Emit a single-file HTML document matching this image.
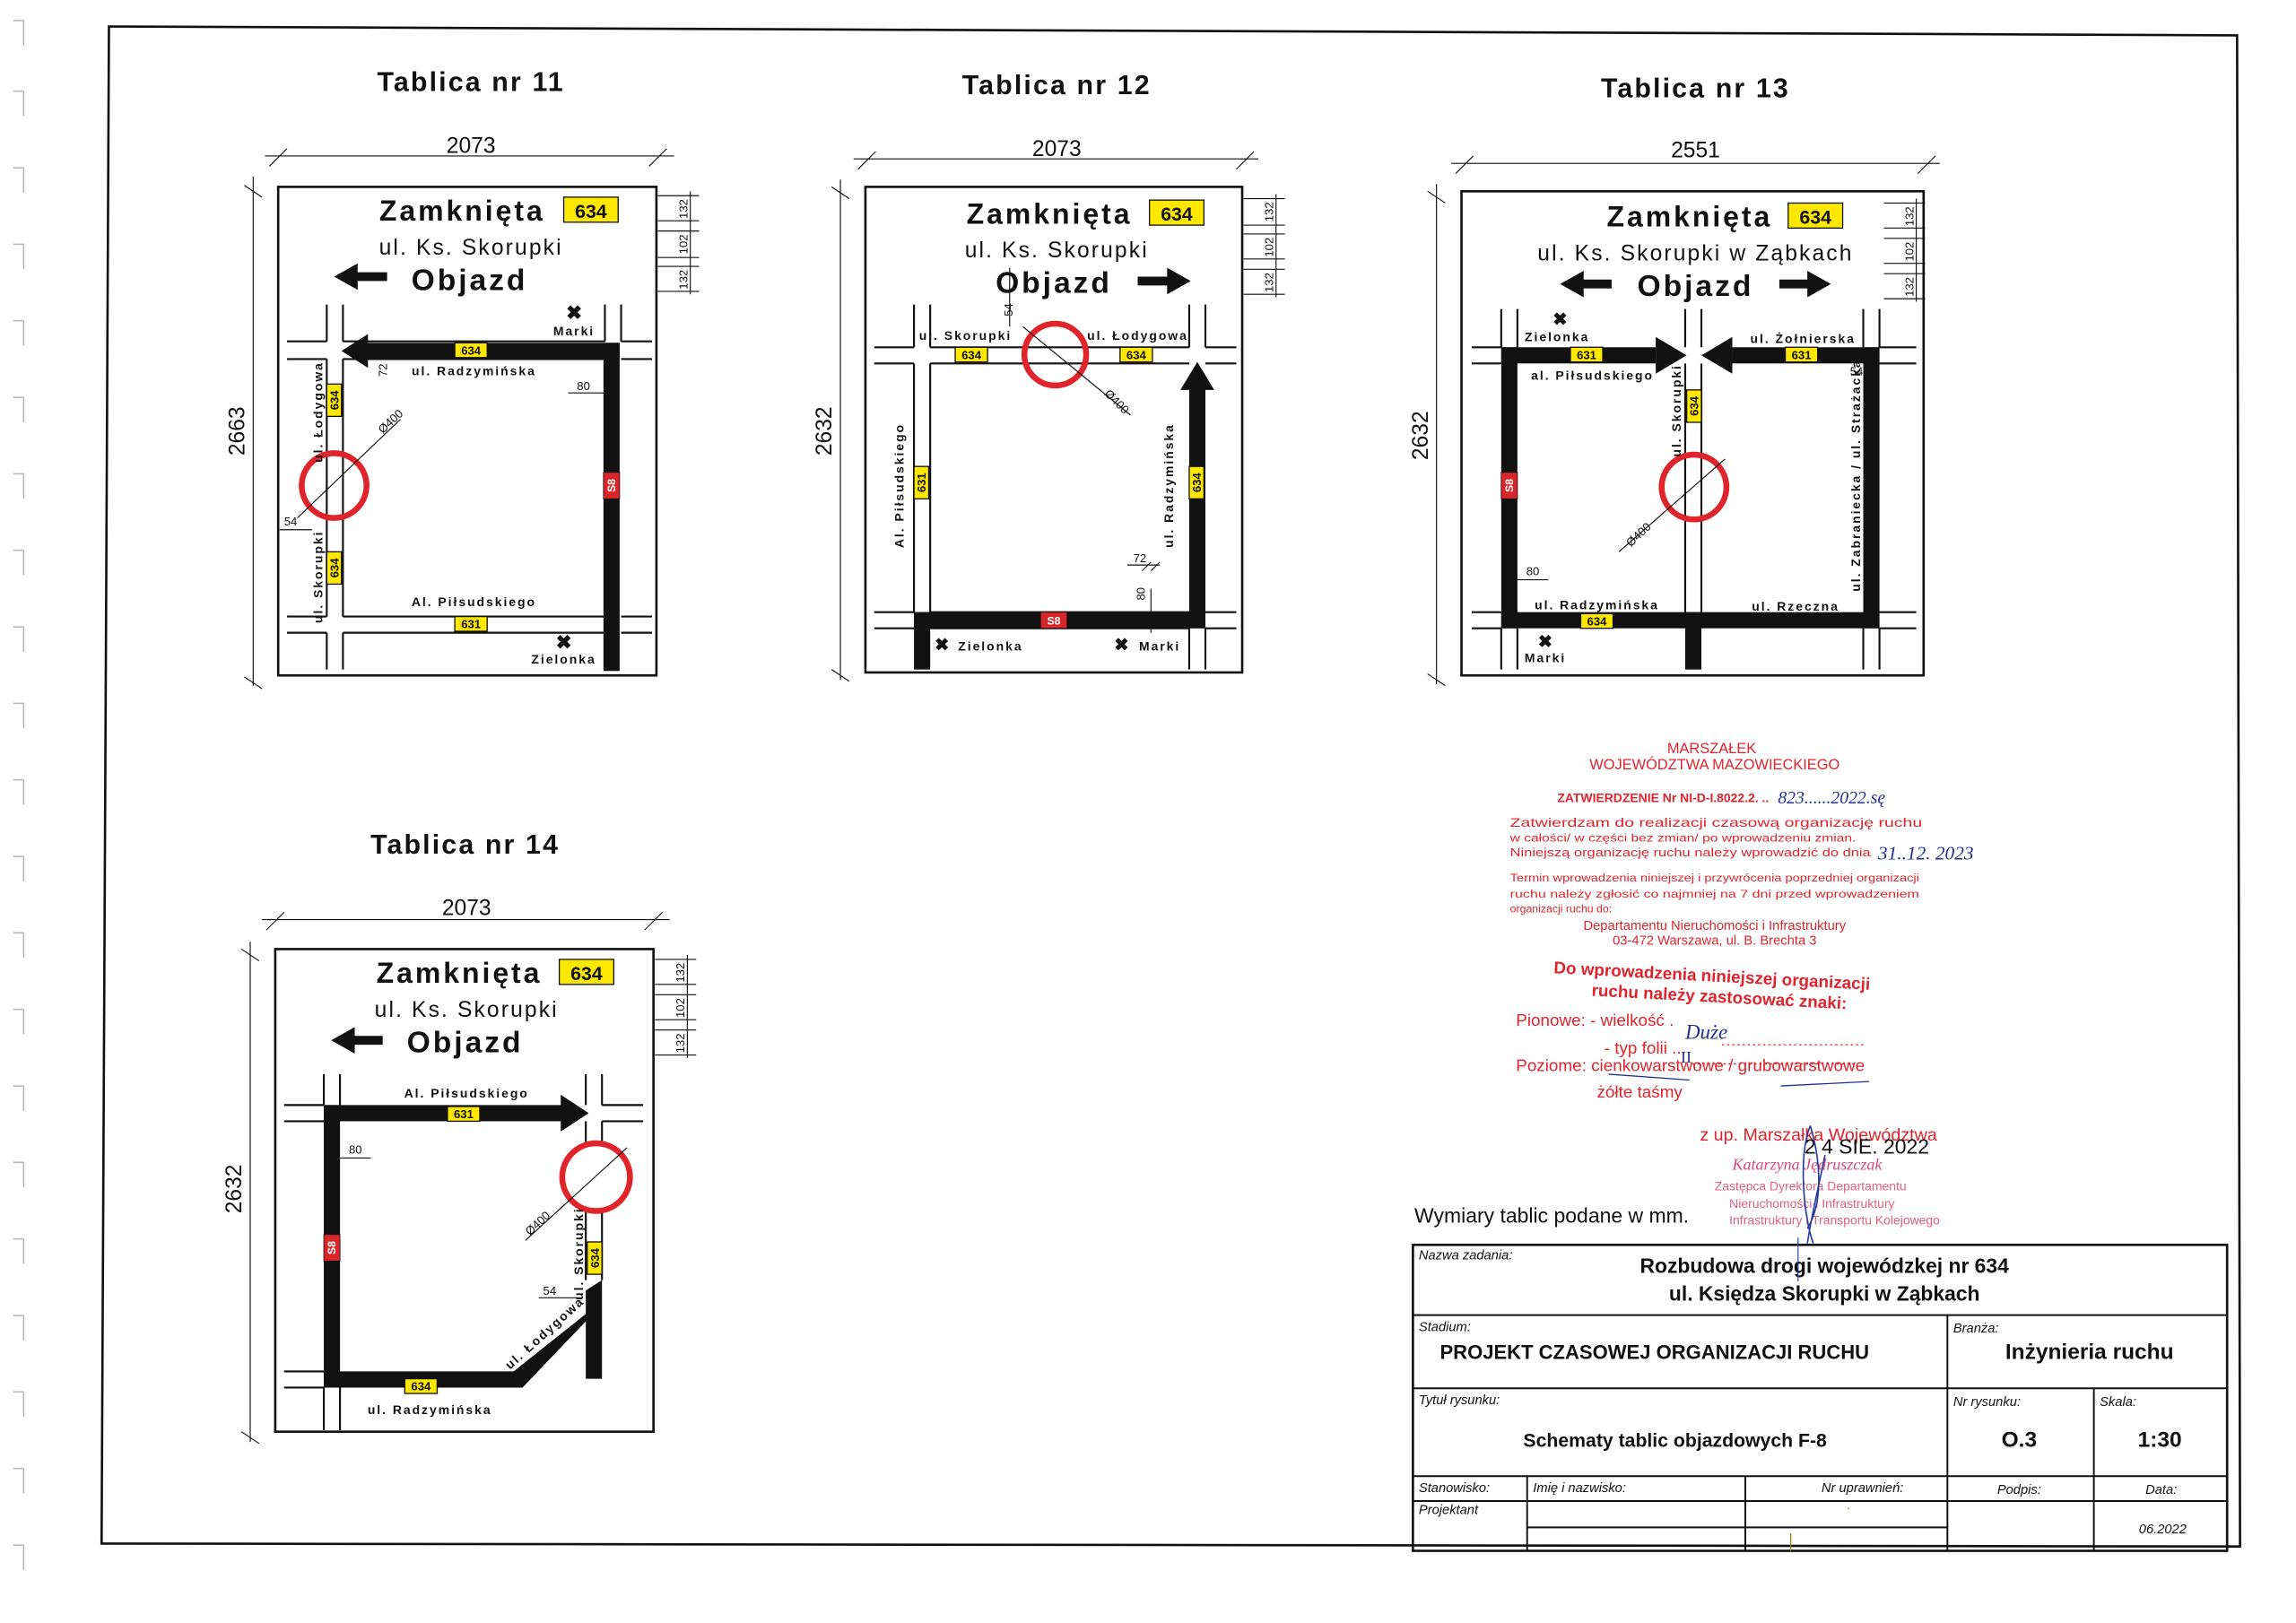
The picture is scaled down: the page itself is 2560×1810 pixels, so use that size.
<!DOCTYPE html>
<html><head><meta charset="utf-8"><style>
html,body{margin:0;padding:0;background:#fff;width:2560px;height:1810px;overflow:hidden}
svg{display:block}
.s{font-family:"Liberation Sans",sans-serif;font-weight:bold;fill:#111}
.a{font-family:"Liberation Sans",sans-serif;fill:#111}
.r{font-family:"Liberation Sans",sans-serif;fill:#e0242c}
.ln{stroke:#111;stroke-width:1.3;fill:none}
.th{stroke:#111;stroke-width:0.7;fill:none}
.yb{fill:#ffe800;stroke:#111;stroke-width:0.8}
.yt{font-family:"Liberation Sans",sans-serif;font-weight:bold;font-size:8px;fill:#111;text-anchor:middle}
.rb{fill:#d8262a;stroke:#111;stroke-width:0.5}
.rt{font-family:"Liberation Sans",sans-serif;font-weight:bold;font-size:7.5px;fill:#fff;text-anchor:middle}
.cir{fill:none;stroke:#e0242c;stroke-width:4}
.lb{font-family:"Liberation Sans",sans-serif;font-weight:bold;font-size:8.5px;fill:#111;letter-spacing:1.2px}
.sm{font-family:"Liberation Sans",sans-serif;font-size:8px;fill:#111}
.tb{font-family:"Liberation Sans",sans-serif;font-style:italic;font-size:9px;fill:#111}
.z{font-size:19.5px;letter-spacing:1.8px}
.u{font-size:15px;letter-spacing:1.3px;font-weight:normal}
.o{font-size:20.5px;letter-spacing:1.8px}
.ti{font-size:18.5px;letter-spacing:1.3px}
</style></head><body>
<svg width="2560" height="1810" viewBox="0 0 1560 1103" xmlns="http://www.w3.org/2000/svg">
<rect width="1560" height="1103" fill="#fff"/>
<g stroke="#bbb" stroke-width="1" fill="none">
<path d="M9 14h7v17"/><path d="M9 62h7v17"/><path d="M9 114h7v17"/><path d="M9 166h7v17"/><path d="M9 218h7v17"/><path d="M9 270h7v17"/><path d="M9 322h7v17"/><path d="M9 374h7v17"/><path d="M9 426h7v17"/><path d="M9 478h7v17"/><path d="M9 530h7v17"/><path d="M9 582h7v17"/><path d="M9 634h7v17"/><path d="M9 686h7v17"/><path d="M9 738h7v17"/><path d="M9 790h7v17"/><path d="M9 842h7v17"/><path d="M9 894h7v17"/><path d="M9 946h7v17"/><path d="M9 998h7v17"/><path d="M9 1050h7v17"/>
</g>
<polygon points="74,18 1520,24 1522,1051 69,1049" fill="none" stroke="#111" stroke-width="1.6"/>

<!-- ===== TABLICA 11 ===== -->
<text x="320" y="62" class="s ti" text-anchor="middle">Tablica nr 11</text>
<text x="320" y="104" class="a" font-size="15" text-anchor="middle">2073</text>
<path class="th" d="M180 106h278M183 113l12-12M441 113l12-12M172 120v346M166 126l12 8M166 460l12 8"/>
<text transform="translate(166,293) rotate(-90)" class="a" font-size="15" text-anchor="middle">2663</text>
<rect x="189" y="127" width="257" height="332" fill="none" stroke="#111" stroke-width="1.6"/>
<path class="th" d="M447 133h28M447 150h28M447 157h28M447 175h28M447 181h28M447 198h28M469 130v70"/>
<g class="sm" font-size="6"><text transform="translate(467,142) rotate(-90)" text-anchor="middle">132</text><text transform="translate(467,166) rotate(-90)" text-anchor="middle">102</text><text transform="translate(467,190) rotate(-90)" text-anchor="middle">132</text></g>
<text x="314" y="150" class="s z" text-anchor="middle">Zamknięta</text>
<rect x="383" y="134" width="37" height="17" class="yb" stroke-width="1.3"/><text x="401.5" y="148" class="s" font-size="13" text-anchor="middle">634</text>
<text x="320" y="173" class="s u" text-anchor="middle">ul. Ks. Skorupki</text>
<text x="319" y="197" class="s o" text-anchor="middle">Objazd</text>
<polygon points="227,188 243,179 243,185 263,185 263,191 243,191 243,197" fill="#111"/>
<path class="ln" d="M195 232h27M233 232h178M422 232h21M195 244h27M233 244h178M422 244h21M195 419h27M233 419h178M422 419h21M195 430h27M233 430h178M422 430h21M222 207v25M233 207v25M222 244v175M233 244v175M222 430v25M233 430v25M411 207v25M422 207v25"/>
<rect x="245" y="233" width="176" height="11" fill="#111"/>
<polygon points="232,238.5 250,227 250,250" fill="#111"/>
<rect x="410" y="233" width="11" height="223" fill="#111"/>
<circle cx="227" cy="330" r="22" class="cir"/>
<path class="th" d="M202 352L272 285M190 360h22"/>
<text transform="translate(260,295) rotate(-43)" class="sm" font-size="7">Ø400</text>
<text x="193" y="357" class="sm" font-size="8">54</text>
<text x="392" y="265" class="sm" font-size="8">80</text><path class="th" d="M386 267h30"/>
<text transform="translate(263,256) rotate(-90)" class="sm" font-size="7">72</text>
<text x="390" y="228" class="lb" text-anchor="middle">Marki</text>
<text x="390" y="217" class="s" font-size="13" text-anchor="middle">✖</text>
<text x="383" y="441" class="s" font-size="13" text-anchor="middle">✖</text>
<text x="322" y="255" class="lb" text-anchor="middle">ul. Radzymińska</text>
<text x="322" y="412" class="lb" text-anchor="middle">Al. Piłsudskiego</text>
<text x="383" y="451" class="lb" text-anchor="middle">Zielonka</text>
<rect x="309" y="233" width="22" height="10" class="yb"/><text x="320" y="241" class="yt">634</text>
<rect x="309" y="419" width="22" height="10" class="yb"/><text x="320" y="427" class="yt">631</text>
<rect x="222" y="261" width="10" height="22" class="yb"/><text transform="translate(230,272) rotate(-90)" class="yt">634</text>
<rect x="222" y="375" width="10" height="22" class="yb"/><text transform="translate(230,386) rotate(-90)" class="yt">634</text>
<rect x="410" y="321" width="11" height="18" class="rb"/><text transform="translate(418,330) rotate(-90)" class="rt">S8</text>
<text transform="translate(219,280) rotate(-90)" class="lb" font-size="8" text-anchor="middle" letter-spacing="0.8">ul. Łodygowa</text>
<text transform="translate(219,392) rotate(-90)" class="lb" font-size="8" text-anchor="middle" letter-spacing="0.8">ul. Skorupki</text>

<!-- ===== TABLICA 12 ===== -->
<text x="718" y="64" class="s ti" text-anchor="middle">Tablica nr 12</text>
<text x="718" y="106" class="a" font-size="15" text-anchor="middle">2073</text>
<path class="th" d="M580 108h275M583 115l12-12M840 115l12-12M571 122v340M565 127l12 8M565 455l12 8"/>
<text transform="translate(565,293) rotate(-90)" class="a" font-size="15" text-anchor="middle">2632</text>
<rect x="588" y="127" width="256" height="330" fill="none" stroke="#111" stroke-width="1.6"/>
<path class="th" d="M845 135h28M845 153h28M845 159h28M845 176h28M845 183h28M845 200h28M867 132v70"/>
<g class="sm" font-size="6"><text transform="translate(865,144) rotate(-90)" text-anchor="middle">132</text><text transform="translate(865,168) rotate(-90)" text-anchor="middle">102</text><text transform="translate(865,192) rotate(-90)" text-anchor="middle">132</text></g>
<text x="713" y="152" class="s z" text-anchor="middle">Zamknięta</text>
<rect x="781" y="136" width="37" height="17" class="yb" stroke-width="1.3"/><text x="799.5" y="150" class="s" font-size="13" text-anchor="middle">634</text>
<text x="718" y="175" class="s u" text-anchor="middle">ul. Ks. Skorupki</text>
<text x="716" y="199" class="s o" text-anchor="middle">Objazd</text>
<polygon points="809,191 793,182 793,188 773,188 773,194 793,194 793,200" fill="#111"/>
<path class="ln" d="M594 236h27M632 236h176M819 236h21M594 247h27M632 247h176M819 247h21M594 416h27M632 416h176M819 416h21M594 427h27M632 427h176M819 427h21M621 207v29M632 207v29M621 247v169M632 247v169M808 207v29M819 207v29M808 427v28M819 427v28"/>
<rect x="621" y="416" width="198" height="11" fill="#111"/>
<rect x="621" y="416" width="11" height="39" fill="#111"/>
<rect x="808" y="262" width="11" height="165" fill="#111"/>
<polygon points="813.5,246 825,265 802,265" fill="#111"/>
<circle cx="717" cy="241" r="21" class="cir"/>
<path class="th" d="M695 222L768 282M686 222v-40"/>
<text transform="translate(750,268) rotate(45)" class="sm" font-size="7">Ø400</text>
<text transform="translate(688,215) rotate(-90)" class="sm" font-size="7">54</text>
<text x="770" y="382" class="sm" font-size="8">72</text><path class="th" d="M766 384h22M776 388l6-6M782 388l6-6"/>
<text transform="translate(778,408) rotate(-90)" class="sm" font-size="8">80</text><path class="th" d="M782 400v30"/>
<text x="656" y="231" class="lb" font-size="8" text-anchor="middle" letter-spacing="0.6">ul. Skorupki</text>
<text x="773" y="231" class="lb" font-size="8" text-anchor="middle" letter-spacing="0.6">ul. Łodygowa</text>
<rect x="649" y="236" width="22" height="10" class="yb"/><text x="660" y="244" class="yt">634</text>
<rect x="761" y="236" width="22" height="10" class="yb"/><text x="772" y="244" class="yt">634</text>
<rect x="621" y="317" width="10" height="22" class="yb"/><text transform="translate(629,328) rotate(-90)" class="yt">631</text>
<rect x="808" y="317" width="10" height="22" class="yb"/><text transform="translate(816,328) rotate(-90)" class="yt">634</text>
<rect x="707" y="416" width="18" height="11" class="rb"/><text x="716" y="424.5" class="rt">S8</text>
<text transform="translate(614,330) rotate(-90)" class="lb" text-anchor="middle">Al. Piłsudskiego</text>
<text transform="translate(797,330) rotate(-90)" class="lb" text-anchor="middle">ul. Radzymińska</text>
<text x="640" y="442" class="s" font-size="12" text-anchor="middle">✖</text><text x="673" y="442" class="lb" text-anchor="middle">Zielonka</text>
<text x="762" y="442" class="s" font-size="12" text-anchor="middle">✖</text><text x="788" y="442" class="lb" text-anchor="middle">Marki</text>

<!-- ===== TABLICA 13 ===== -->
<text x="1152" y="66" class="s ti" text-anchor="middle">Tablica nr 13</text>
<text x="1152" y="107" class="a" font-size="15" text-anchor="middle">2551</text>
<path class="th" d="M986 111h332M989 118l12-12M1303 118l12-12M976 125v340M970 130l12 8M970 458l12 8"/>
<text transform="translate(970,296) rotate(-90)" class="a" font-size="15" text-anchor="middle">2632</text>
<rect x="993" y="130" width="314" height="329" fill="none" stroke="#111" stroke-width="1.6"/>
<path class="th" d="M1280 138h28M1280 155h28M1280 162h28M1280 179h28M1280 186h28M1280 203h28M1302 135v70"/>
<g class="sm" font-size="6"><text transform="translate(1300,147) rotate(-90)" text-anchor="middle">132</text><text transform="translate(1300,171) rotate(-90)" text-anchor="middle">102</text><text transform="translate(1300,195) rotate(-90)" text-anchor="middle">132</text></g>
<text x="1148" y="154" class="s z" text-anchor="middle">Zamknięta</text>
<rect x="1215" y="138" width="37" height="17" class="yb" stroke-width="1.3"/><text x="1233.5" y="152" class="s" font-size="13" text-anchor="middle">634</text>
<text x="1152" y="177" class="s u" text-anchor="middle">ul. Ks. Skorupki w Ząbkach</text>
<text x="1152" y="201" class="s o" text-anchor="middle">Objazd</text>
<polygon points="1060,193 1076,184 1076,190 1095,190 1095,196 1076,196 1076,202" fill="#111"/>
<polygon points="1244,193 1228,184 1228,190 1209,190 1209,196 1228,196 1228,202" fill="#111"/>
<path class="ln" d="M1000 236h20M1277 236h25M1000 247h20M1277 247h25M1000 416h20M1277 416h25M1000 427h20M1277 427h25M1020 210v26M1031 210v26M1020 427v28M1031 427v28M1145 210v26M1156 210v26M1145 247v169M1156 247v169M1266 210v26M1277 210v26M1266 427v28M1277 427v28"/>
<rect x="1020" y="236" width="105" height="11" fill="#111"/>
<polygon points="1146,241.5 1125,229 1125,254" fill="#111"/>
<rect x="1177" y="236" width="100" height="11" fill="#111"/>
<polygon points="1156,241.5 1177,229 1177,254" fill="#111"/>
<rect x="1020" y="236" width="11" height="191" fill="#111"/>
<rect x="1266" y="236" width="11" height="191" fill="#111"/>
<rect x="1020" y="416" width="257" height="11" fill="#111"/>
<rect x="1145" y="416" width="11" height="39" fill="#111"/>
<circle cx="1151" cy="331" r="22" class="cir"/>
<path class="th" d="M1172 312L1100 375"/>
<text transform="translate(1108,372) rotate(-43)" class="sm" font-size="7">Ø400</text>
<text x="1037" y="391" class="sm" font-size="8">80</text><path class="th" d="M1028 394h24"/>
<text transform="translate(1257,255)" class="sm" font-size="7">54</text>
<text x="1058" y="232" class="lb" text-anchor="middle">Zielonka</text>
<text x="1060" y="221" class="s" font-size="12" text-anchor="middle">✖</text>
<text x="1225" y="233" class="lb" text-anchor="middle">ul. Żołnierska</text>
<text x="1082" y="258" class="lb" text-anchor="middle" letter-spacing="0.8">al. Piłsudskiego</text>
<rect x="1067" y="236" width="22" height="10" class="yb"/><text x="1078" y="244" class="yt">631</text>
<rect x="1213" y="236" width="22" height="10" class="yb"/><text x="1224" y="244" class="yt">631</text>
<rect x="1146" y="265" width="10" height="22" class="yb"/><text transform="translate(1154,276) rotate(-90)" class="yt">634</text>
<text transform="translate(1142,279) rotate(-90)" class="lb" font-size="7.5" letter-spacing="0.5" text-anchor="middle">ul. Skorupki</text>
<rect x="1020" y="321" width="11" height="18" class="rb"/><text transform="translate(1028,330) rotate(-90)" class="rt">S8</text>
<text transform="translate(1264,323) rotate(-90)" class="lb" font-size="7.5" letter-spacing="0.8" text-anchor="middle">ul. Zabraniecka / ul. Strażacka</text>
<text x="1085" y="414" class="lb" font-size="8" letter-spacing="0.6" text-anchor="middle">ul. Radzymińska</text>
<rect x="1074" y="417" width="22" height="10" class="yb"/><text x="1085" y="425" class="yt">634</text>
<text x="1220" y="415" class="lb" font-size="8" letter-spacing="0.6" text-anchor="middle">ul. Rzeczna</text>
<text x="1050" y="440" class="s" font-size="12" text-anchor="middle">✖</text>
<text x="1050" y="450" class="lb" text-anchor="middle">Marki</text>

<!-- ===== TABLICA 14 ===== -->
<text x="316" y="580" class="s ti" text-anchor="middle">Tablica nr 14</text>
<text x="317" y="622" class="a" font-size="15" text-anchor="middle">2073</text>
<path class="th" d="M178 625h277M181 632l12-12M438 632l12-12M170 640v340M164 645l12 8M164 973l12 8"/>
<text transform="translate(164,808) rotate(-90)" class="a" font-size="15" text-anchor="middle">2632</text>
<rect x="187" y="645" width="257" height="328" fill="none" stroke="#111" stroke-width="1.6"/>
<path class="th" d="M445 652h28M445 669h28M445 676h28M445 693h28M445 700h28M445 717h28M467 649v70"/>
<g class="sm" font-size="6"><text transform="translate(465,661) rotate(-90)" text-anchor="middle">132</text><text transform="translate(465,685) rotate(-90)" text-anchor="middle">102</text><text transform="translate(465,709) rotate(-90)" text-anchor="middle">132</text></g>
<text x="312" y="668" class="s z" text-anchor="middle">Zamknięta</text>
<rect x="380" y="652" width="37" height="17" class="yb" stroke-width="1.3"/><text x="398.5" y="666" class="s" font-size="13" text-anchor="middle">634</text>
<text x="317" y="691" class="s u" text-anchor="middle">ul. Ks. Skorupki</text>
<text x="316" y="715" class="s o" text-anchor="middle">Objazd</text>
<polygon points="225,707 241,698 241,704 260,704 260,710 241,710 241,716" fill="#111"/>
<path class="ln" d="M193 751h27M409 751h28M193 762h27M409 762h28M193 932h27M193 943h27M220 730v21M231 730v21M220 943v29M231 943v29M398 730v21M409 730v21M398 762v15M398 823v47M409 762v15M409 823v47"/>
<rect x="220" y="751" width="162" height="11" fill="#111"/>
<polygon points="400,756.5 381,744 381,769" fill="#111"/>
<rect x="220" y="751" width="11" height="192" fill="#111"/>
<polygon points="220,932 349,932 398,893 398,877 409,870 409,937 398,937 398,898 355,943 220,943" fill="#111"/>
<circle cx="405" cy="800" r="23" class="cir"/>
<path class="th" d="M426 780L357 843"/>
<text transform="translate(360,840) rotate(-43)" class="sm" font-size="7">Ø400</text>
<text x="237" y="784" class="sm" font-size="8">80</text><path class="th" d="M228 787h24"/>
<text x="369" y="880" class="sm" font-size="8">54</text><path class="th" d="M366 882h28"/>
<text x="317" y="746" class="lb" text-anchor="middle">Al. Piłsudskiego</text>
<text x="292" y="961" class="lb" text-anchor="middle">ul. Radzymińska</text>
<rect x="304" y="752" width="22" height="10" class="yb"/><text x="315" y="760" class="yt">631</text>
<rect x="275" y="937" width="22" height="10" class="yb"/><text x="286" y="945" class="yt">634</text>
<rect x="399" y="844" width="10" height="22" class="yb"/><text transform="translate(407,855) rotate(-90)" class="yt">634</text>
<rect x="220" y="839" width="11" height="18" class="rb"/><text transform="translate(228,848) rotate(-90)" class="rt">S8</text>
<text transform="translate(396,852) rotate(-90)" class="lb" font-size="7.5" letter-spacing="0.5" text-anchor="middle">ul. Skorupki</text>
<text transform="translate(372,908) rotate(-42)" class="lb" font-size="7.5" letter-spacing="0.5" text-anchor="middle">ul. Łodygowa</text>

<!-- ===== STAMP ===== -->
<g class="r" text-anchor="middle">
<text x="1163" y="512" font-size="10">MARSZAŁEK</text>
<text x="1165" y="523" font-size="10">WOJEWÓDZTWA MAZOWIECKIEGO</text>
<text x="1130" y="545" font-size="8.5" font-weight="bold">ZATWIERDZENIE Nr NI-D-I.8022.2. ..</text>
</g>
<text x="1208" y="546" font-family="Liberation Serif,serif" font-style="italic" font-size="12" fill="#23308f">823......2022.sę</text>
<g class="r">
<text x="1026" y="562" font-size="8.2" textLength="280" lengthAdjust="spacingAndGlyphs">Zatwierdzam do realizacji czasową organizację ruchu</text>
<text x="1026" y="572" font-size="7.5" textLength="235" lengthAdjust="spacingAndGlyphs">w całości/ w części bez zmian/ po wprowadzeniu zmian.</text>
<text x="1026" y="582" font-size="7.8" textLength="245" lengthAdjust="spacingAndGlyphs">Niniejszą organizację ruchu należy wprowadzić do dnia</text>
<text x="1026" y="599" font-size="7.5" textLength="278" lengthAdjust="spacingAndGlyphs">Termin wprowadzenia niniejszej i przywrócenia poprzedniej organizacji</text>
<text x="1026" y="610" font-size="7.5" textLength="278" lengthAdjust="spacingAndGlyphs">ruchu należy zgłosić co najmniej na 7 dni przed wprowadzeniem</text>
<text x="1026" y="620" font-size="7.5">organizacji ruchu do:</text>
<text x="1165" y="632" font-size="9" text-anchor="middle">Departamentu Nieruchomości i Infrastruktury</text>
<text x="1165" y="642" font-size="9" text-anchor="middle">03-472 Warszawa, ul. B. Brechta 3</text>
</g>
<text x="1276" y="584" font-family="Liberation Serif,serif" font-style="italic" font-size="13" fill="#23308f">31..12. 2023</text>
<g class="r">
<text x="1163" y="667" font-size="11.5" font-weight="bold" text-anchor="middle" transform="rotate(3 1163 667)">Do wprowadzenia niniejszej organizacji</text>
<text x="1168" y="681" font-size="11.5" font-weight="bold" text-anchor="middle" transform="rotate(3 1163 681)">ruchu należy zastosować znaki:</text>
<text x="1030" y="697" font-size="11.5">Pionowe: - wielkość .</text>
<text x="1090" y="716" font-size="11.5">- typ folii ...</text>
<text x="1030" y="728" font-size="11.5">Poziome: cienkowarstwowe / grubowarstwowe</text>
<text x="1085" y="746" font-size="11.5">żółte taśmy</text>
<text x="1155" y="775" font-size="12">z up. Marszałka Województwa</text>
<text x="1177" y="795" font-size="11" font-family="Liberation Serif,serif" font-style="italic" fill="#d84a7a">Katarzyna Jędruszczak</text>
<text x="1165" y="809" font-size="8.5" fill="#e06080">Zastępca Dyrektora Departamentu</text>
<text x="1175" y="821" font-size="8.5" fill="#e06080">Nieruchomości i Infrastruktury</text>
<text x="1175" y="832" font-size="8.5" fill="#e06080">Infrastruktury i Transportu Kolejowego</text>
</g>
<text x="1145" y="706" font-family="Liberation Serif,serif" font-style="italic" font-size="14" fill="#23308f">Duże</text>
<text x="1142" y="722" font-family="Liberation Serif,serif" font-size="11" fill="#23308f">II</text>
<path d="M1170 710h98M1150 723h110" stroke="#e0242c" stroke-width="0.8" stroke-dasharray="1.5,2" fill="none"/>
<path d="M1093 730l55 4M1210 738l60-3" stroke="#23308f" stroke-width="0.8" fill="none"/>
<text x="1226" y="784" font-family="Liberation Sans,sans-serif" font-size="14" fill="#111">2 4 SIE. 2022</text>
<path d="M1230 765c-8 20 -5 60 2 80M1230 765c6 20 10 50 -2 70M1228 845c3-20 8-40 12-60" stroke="#2a3a9a" stroke-width="1" fill="none"/>
<text x="961" y="831" class="a" font-size="14">Wymiary tablic podane w mm.</text>

<!-- ===== TITLE BLOCK ===== -->
<g transform="translate(960,846) scale(0.995) translate(-965,-850)">
<g stroke="#111" fill="none">
<rect x="965" y="850" width="556" height="209" stroke-width="1.6"/>
<path d="M965 898h556M965 948h556M965 1008h556M965 1025h556M1043 1043h287" stroke-width="1.2"/>
<path d="M1330 898v161M1430 948v111M1043 1008v51M1192 1008v51" stroke-width="1.2"/>
</g>
<text x="969" y="860" class="tb">Nazwa zadania:</text>
<text x="1246" y="869" class="a" font-size="14" font-weight="bold" text-anchor="middle">Rozbudowa drogi wojewódzkej nr 634</text>
<text x="1246" y="888" class="a" font-size="14" font-weight="bold" text-anchor="middle">ul. Księdza Skorupki w Ząbkach</text>
<text x="969" y="909" class="tb">Stadium:</text>
<text x="1130" y="928" class="a" font-size="13.5" font-weight="bold" text-anchor="middle">PROJEKT CZASOWEJ ORGANIZACJI RUCHU</text>
<text x="1334" y="910" class="tb">Branża:</text>
<text x="1427" y="928" class="a" font-size="15" font-weight="bold" text-anchor="middle">Inżynieria ruchu</text>
<text x="969" y="959" class="tb">Tytuł rysunku:</text>
<text x="1144" y="988" class="a" font-size="13" font-weight="bold" text-anchor="middle">Schematy tablic objazdowych F-8</text>
<text x="1334" y="960" class="tb">Nr rysunku:</text>
<text x="1379" y="988" class="a" font-size="15" font-weight="bold" text-anchor="middle">O.3</text>
<text x="1434" y="960" class="tb">Skala:</text>
<text x="1475" y="988" class="a" font-size="15" font-weight="bold" text-anchor="middle">1:30</text>
<text x="969" y="1019" class="tb">Stanowisko:</text>
<text x="1047" y="1019" class="tb">Imię i nazwisko:</text>
<text x="1300" y="1019" class="tb" text-anchor="end">Nr uprawnień:</text>
<text x="1379" y="1020" class="tb" text-anchor="middle">Podpis:</text>
<text x="1476" y="1020" class="tb" text-anchor="middle">Data:</text>
<text x="969" y="1034" class="tb">Projektant</text>
<text x="1477" y="1047" class="tb" font-size="14" text-anchor="middle">06.2022</text>
<path d="M1262 1030h1M1223 1047v12" stroke="#a08020" stroke-width="0.8"/>
<path d="M1228 845v30" stroke="#2a3a9a" stroke-width="0.7"/>
</g>
</svg>
</body></html>
